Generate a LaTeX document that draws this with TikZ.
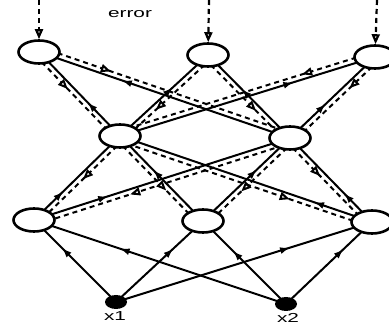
\documentclass[tikz,border=0pt]{standalone}
\usepackage{fontspec}
\usetikzlibrary{shapes.geometric,arrows.meta,decorations.markings,calc,backgrounds}
\newfontfamily\lblfont[FakeStretch=1.6]{Liberation Sans}

\tikzset{
  unit/.style={draw, ellipse, line width=2.6pt, fill=white, inner sep=0pt,
    minimum width=41pt, minimum height=23pt},
  inp/.style={ellipse, fill=black, inner sep=0pt, minimum width=22pt, minimum height=14pt},
  lbl/.style={font=\lblfont\fontsize{13}{15}\selectfont, inner sep=0pt},
  sig/.style={line width=2pt,
    postaction={decorate, decoration={markings,
      mark=at position #1 with {\arrow{Latex[length=10pt,width=7pt]}}}}},
  err/.style n args={3}{line width=2pt, dash pattern=on 5pt off 4pt,
    to path={($(\tikztostart)!5pt!#1:(\tikztotarget)$) -- ($(\tikztotarget)!5pt!#2:(\tikztostart)$)},
    postaction={decorate, decoration={markings,
      mark=at position #3 with {\arrow{Triangle[fill=white,length=10pt,width=8pt]}}}}},
  errcw/.style={err={-90}{90}{#1}},
  errccw/.style={err={90}{-90}{#1}},
  errin/.style={line width=2.2pt, dash pattern=on 5pt off 4pt,
    -{Triangle[fill=white,length=10pt,width=8pt]}},
}

\begin{document}
\begin{tikzpicture}[x=1pt,y=-1pt]
  \useasboundingbox (0,0) rectangle (389,326);
  \clip (0,0) rectangle (389,326);

  \node[unit] (t1) at (39,52) {};
  \node[unit] (t2) at (208,55) {};
  \node[unit] (t3) at (375,57) {};
  \node[unit] (m1) at (120,136) {};
  \node[unit] (m2) at (290,138) {};
  \node[unit] (b1) at (34,220) {};
  \node[unit] (b2) at (203,221) {};
  \node[unit] (b3) at (372,222) {};
  \node[inp] (x1) at (116,302) {};
  \node[inp] (x2) at (286,304) {};

  \node[lbl, anchor=base] (lx1) at (115,321) {x1};
  \node[lbl, anchor=base] (lx2) at (288,322.5) {x2};
  \node[lbl, font=\lblfont\fontsize{13}{15}\selectfont, anchor=base] (lerr) at (130,17.5) {error};

  \coordinate (e1) at (39,0);
  \coordinate (e2) at (209,0);
  \coordinate (e3) at (377,0);
  \draw[errin] (e1) -- (t1);
  \draw[errin] (e2) -- (t2);
  \draw[errin] (e3) -- (t3);

  \begin{scope}[on background layer]
    \draw[sig=0.4]  (m1.center) -- (t1.center);
    \draw[sig=0.67] (m2.center) -- (t1.center);
    \draw[sig=0.6]  (m1.center) -- (t2.center);
    \draw[sig=0.59] (m2.center) -- (t2.center);
    \draw[sig=0.68] (m1.center) -- (t3.center);
    \draw[sig=0.42] (m2.center) -- (t3.center);

    \draw[errcw=0.4]   (t1) to (m1);
    \draw[errccw=0.28] (t1) to (m2);
    \draw[errccw=0.63] (t2) to (m1);
    \draw[errcw=0.63]  (t2) to (m2);
    \draw[errcw=0.28]  (t3) to (m1);
    \draw[errccw=0.34] (t3) to (m2);

    \draw[sig=0.34] (b1.center) -- (m1.center);
    \draw[sig=0.29] (b1.center) -- (m2.center);
    \draw[sig=0.6]  (b2.center) -- (m1.center);
    \draw[sig=0.62] (b2.center) -- (m2.center);
    \draw[sig=0.23] (b3.center) -- (m1.center);
    \draw[sig=0.34] (b3.center) -- (m2.center);

    \draw[errccw=0.47] (m1) to (b1);
    \draw[errccw=0.63] (m2) to (b1);
    \draw[errcw=0.6]   (m1) to (b2);
    \draw[errccw=0.6]  (m2) to (b2);
    \draw[errcw=0.68]  (m1) to (b3);
    \draw[errcw=0.41]  (m2) to (b3);

    \draw[sig=0.66] (x1.center) -- (b1.center);
    \draw[sig=0.66] (x1.center) -- (b2.center);
    \draw[sig=0.68] (x1.center) -- (b3.center);
    \draw[sig=0.66] (x2.center) -- (b1.center);
    \draw[sig=0.64] (x2.center) -- (b2.center);
    \draw[sig=0.67] (x2.center) -- (b3.center);
  \end{scope}
\end{tikzpicture}
\end{document}
